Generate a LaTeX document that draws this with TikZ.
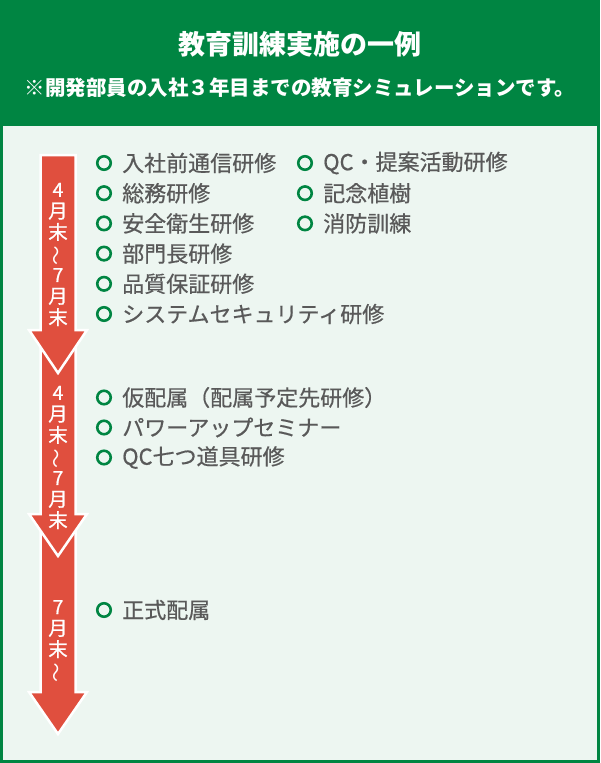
\documentclass[tikz,border=0pt]{standalone}
\usepackage{fontspec}
\usepackage{graphicx}
\setmainfont{Noto Sans CJK JP}
\newfontfamily\medfont{Noto Sans CJK JP}[FakeBold=0.6]
\usetikzlibrary{positioning}

\definecolor{hdgreen}{RGB}{0,133,66}
\definecolor{bodybg}{RGB}{237,246,241}
\definecolor{arrred}{RGB}{224,79,62}
\definecolor{itemgray}{RGB}{89,89,89}

\newcommand{\flowarrow}[3]{% top, head start, tip
  \draw[fill=arrred, draw=white, line width=2.5pt, line join=miter]
    (40.5,#1) -- (75.5,#1) -- (75.5,#2) -- (87,#2) -- (58,#3)
    -- (29,#2) -- (40.5,#2) -- cycle;
}
\newcommand{\vwave}{\smash{\rotatebox[origin=c]{90}{\normalfont ～}}}

\tikzset{
  ring/.style={circle, draw=hdgreen, line width=2.6pt, minimum size=13.5pt, inner sep=0pt},
  item/.style={text=itemgray, font=\medfont\fontsize{22}{25}\selectfont, inner sep=1pt},
  period/.style={text=white, align=center, font=\medfont\fontsize{19.5}{21.3}\selectfont}
}

\begin{document}
\begin{tikzpicture}[x=1pt, y=-1pt]
  \useasboundingbox (0,0) rectangle (600,763);
  \fill[hdgreen] (0,0) rectangle (600,763);
  \fill[bodybg] (3,126) rectangle (597,760);

  \node[text=white, font=\fontsize{27}{30}\selectfont\bfseries] (title) at (300,44) {教育訓練実施の一例};
  \node[text=white, font=\fontsize{20.5}{24}\selectfont\bfseries] (subtitle) at (300,88)
    {※開発部員の入社３年目までの教育シミュレーションです。};

  \flowarrow{520}{692}{734}
  \flowarrow{342}{514}{556}
  \flowarrow{155}{330}{373}

  \node[period] (p1) at (58,254.5) {4\\月\\末\\\vwave\\7\\月\\末};
  \node[period] (p2) at (58,457.5) {4\\月\\末\\\vwave\\7\\月\\末};
  \node[period] (p3) at (58,639) {7\\月\\末\\\vwave};

  \foreach \i/\y/\t in {1/163/入社前通信研修, 2/193.2/総務研修, 3/223.4/安全衛生研修,
      4/253.6/部門長研修, 5/283.8/品質保証研修, 6/314/システムセキュリティ研修,
      7/397.5/仮配属（配属予定先研修）, 8/427.5/パワーアップセミナー, 9/457.5/QC七つ道具研修,
      10/610/正式配属} {
    \node[ring] (b\i) at (104,\y) {};
    \node[item, right=9pt of b\i] (t\i) {\t};
  }
  \foreach \i/\y/\t in {1/163/QC・提案活動研修, 2/193.2/記念植樹, 3/223.4/消防訓練} {
    \node[ring] (r\i) at (305,\y) {};
    \node[item, right=9pt of r\i] (s\i) {\t};
  }
\end{tikzpicture}
\end{document}
